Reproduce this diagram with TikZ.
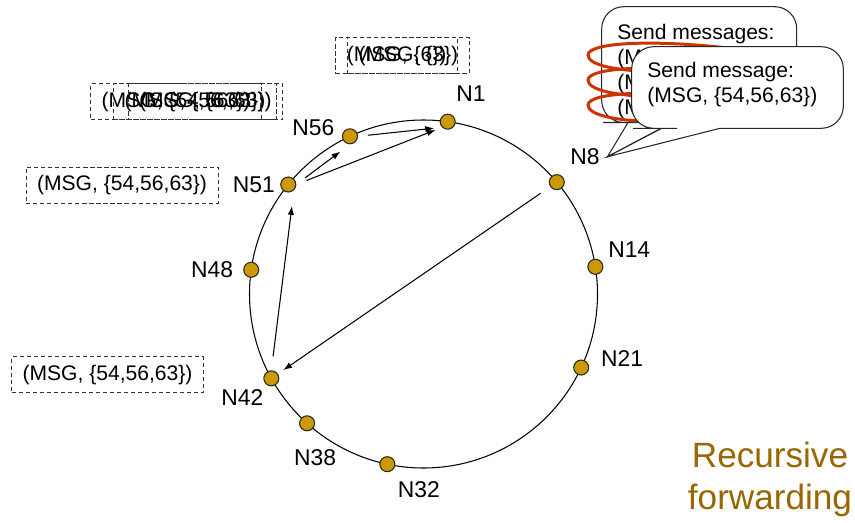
\documentclass[tikz,border=0pt]{standalone}
\usepackage{fontspec}
\setmainfont{Liberation Sans}
\usetikzlibrary{arrows.meta, positioning}
\definecolor{goldDot}{RGB}{204,153,0}
\definecolor{loopRed}{RGB}{204,51,0}
\definecolor{titleBrown}{RGB}{153,102,0}

\begin{document}
\begin{tikzpicture}[
    peer/.style={circle, draw=black!85, fill=goldDot, line width=0.6pt, minimum size=0.3cm, inner sep=0pt},
    tag/.style={inner sep=0pt, font=\fontsize{13}{15}\selectfont},
    msgbox/.style={rectangle, draw=black!80, dash pattern=on 2.4pt off 1.6pt, line width=0.5pt, minimum height=0.72cm, inner xsep=0.22cm, font=\fontsize{12}{14}\selectfont},
    hop/.style={-{Latex[length=5pt,width=3.6pt]}, line width=0.6pt},
    bubble/.style={draw=black!85, fill=white, line width=0.6pt},
    bubbletext/.style={anchor=north west, inner sep=0pt, align=left, font=\fontsize{12}{14.2}\selectfont},
    coil/.style={draw=loopRed, line width=1.7pt}
]
\useasboundingbox (0,0) rectangle (17.1,10.44);

% the ring and its peers
\node[circle, draw, line width=0.6pt, minimum size=6.96cm, outer sep=0pt] (ring) at (8.47,4.56) {};
\node[peer] (n1) at (ring.82.3) {};
\node[peer] (n8) at (ring.40.4) {};
\node[peer] (n14) at (ring.9.9) {};
\node[peer] (n21) at (ring.-25.8) {};
\node[peer] (n32) at (ring.-102.5) {};
\node[peer] (n38) at (ring.-132.4) {};
\node[peer] (n42) at (ring.-151.1) {};
\node[peer] (n48) at (ring.172.7) {};
\node[peer] (n51) at (ring.141.1) {};
\node[peer] (n56) at (ring.115.4) {};

\node[tag] (l1) at ([shift={(50:0.72)}]n1) {N1};
\node[tag] (l8) at ([shift={(42:0.76)}]n8) {N8};
\node[tag] (l14) at ([shift={(27:0.76)}]n14) {N14};
\node[tag] (l21) at ([shift={(13:0.84)}]n21) {N21};
\node[tag] (l32) at ([shift={(-39:0.81)}]n32) {N32};
\node[tag] (l38) at ([shift={(-77:0.71)}]n38) {N38};
\node[tag] (l42) at ([shift={(214:0.70)}]n42) {N42};
\node[tag] (l48) at ([shift={(180:0.78)}]n48) {N48};
\node[tag] (l51) at ([shift={(181:0.69)}]n51) {N51};
\node[tag] (l56) at ([shift={(167:0.75)}]n56) {N56};

% forwarding hops
\draw[hop, shorten <=0.23cm, shorten >=0.13cm] (n8) -- (n42);
\draw[hop, shorten <=0.28cm, shorten >=0.32cm] (n42.north) -- (n51.south east);
\draw[hop, shorten <=0.22cm, shorten >=0.24cm] (n51.east) -- (n56.south);
\draw[hop, shorten <=0.22cm, shorten >=0.14cm] (n51.east) -- (n1.south west);
\draw[hop, shorten <=0.20cm, shorten >=0.16cm] (n56.east) -- (n1.south west);

% messages carried at each hop
\node[msgbox] (m1a) at (8.05,9.326) {(MSG, \{63\})};
\node[msgbox] (m1b) at (8.05,9.326) {(MSG, \{\})};
\node[msgbox] (m56a) at (3.734,8.406) {(MSG, \{54,56,63\})};
\node[msgbox] (m56b) at (3.90,8.406) {(MSG, \{56,63\})};
\node[msgbox] (m56c) at (3.894,8.406) {(MSG, \{63\})};
\node[msgbox, left=0.28cm of l51] (m51) {(MSG, \{54,56,63\})};
\node[msgbox] (m42) at (2.15,2.946) {(MSG, \{54,56,63\})};

% callouts from N8 (tail corners kept sharp)
\coordinate (tip) at ([xshift=0.15cm]l8.east);
\draw[bubble] (14,10.306) [rounded corners=0.44cm] -- (12.034,10.306) -- (12.034,7.99) -- (12.5,7.99)
    [sharp corners] -- (12.56,7.99) -- (tip) -- (13.44,7.99) -- (14.2,7.99)
    [rounded corners=0.44cm] -- (15.934,7.99) -- (15.934,10.306) -- cycle;
\node[bubbletext] (sendall) at (12.34,9.96) {Send messages:\\(MSG, \{54\})\\(MSG, \{56\})\\(MSG, \{63\})};
\draw[coil] (14.9,9.44) .. controls (13.0,9.68) and (11.76,9.58) .. (11.76,9.34) .. controls (11.76,9.14) and (12.3,9.02) .. (13.2,9.0);
\draw[coil] (14.9,8.94) .. controls (13.0,9.18) and (11.76,9.08) .. (11.76,8.84) .. controls (11.76,8.64) and (12.3,8.52) .. (13.2,8.5);
\draw[coil] (14.9,8.44) .. controls (13.0,8.68) and (11.76,8.58) .. (11.76,8.34) .. controls (11.76,8.14) and (12.3,8.02) .. (13.2,8.0);
\draw[bubble] (14.75,9.506) [rounded corners=0.44cm] -- (12.634,9.506) -- (12.634,7.874) -- (13.1,7.874)
    [sharp corners] -- (13.234,7.874) -- (tip) -- (14.4,7.874) -- (15.2,7.874)
    [rounded corners=0.44cm] -- (16.866,7.874) -- (16.866,9.506) -- cycle;
\node[bubbletext] (sendone) at (12.94,9.20) {Send message:\\(MSG, \{54,56,63\})};

\node[font=\fontsize{20}{24}\selectfont, text=titleBrown, align=center] (mode) at (15.4,0.86) {Recursive\\forwarding};
\end{tikzpicture}
\end{document}
